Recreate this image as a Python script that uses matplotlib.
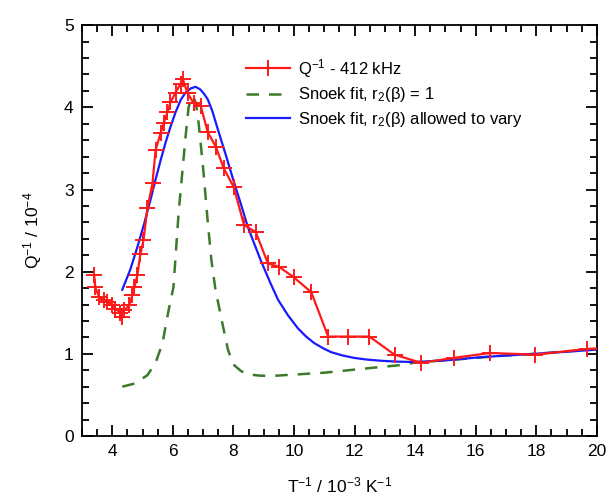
import matplotlib
matplotlib.use("Agg")
import matplotlib.pyplot as plt
from matplotlib.ticker import MultipleLocator

plt.rcParams['font.family'] = ['Liberation Sans', 'DejaVu Sans']
plt.rcParams['mathtext.fontset'] = 'custom'
plt.rcParams['mathtext.rm'] = 'Liberation Sans'
plt.rcParams['mathtext.it'] = 'Liberation Sans'

# Measured data: Q^-1 at 412 kHz
data_x = [3.40, 3.44, 3.57, 3.73, 3.83, 4.00, 4.10, 4.27, 4.33, 4.40, 4.56, 4.66,
          4.73, 4.83, 4.93, 5.03, 5.16, 5.33, 5.43, 5.60, 5.70, 5.82, 5.92, 6.09,
          6.26, 6.32, 6.49, 6.69, 6.92, 7.15, 7.42, 7.68, 8.01, 8.35, 8.74, 9.14,
          9.50, 10.00, 10.57, 11.13, 11.80, 12.49, 13.32, 14.20, 15.27, 16.47,
          17.96, 19.69, 20.30]
data_y = [1.96, 1.81, 1.69, 1.65, 1.63, 1.59, 1.55, 1.50, 1.45, 1.53, 1.59, 1.71,
          1.81, 1.96, 2.22, 2.38, 2.77, 3.08, 3.48, 3.69, 3.81, 3.94, 4.06, 4.18,
          4.29, 4.35, 4.17, 4.05, 4.02, 3.70, 3.52, 3.26, 3.03, 2.57, 2.48, 2.10,
          2.06, 1.93, 1.75, 1.21, 1.21, 1.21, 0.99, 0.89, 0.95, 1.01,
          0.99, 1.06, 1.07]

# Snoek fit, r2(beta) = 1
fit1_x = [4.33, 4.76, 5.16, 5.43, 5.66, 5.86, 6.02, 6.19, 6.32, 6.42, 6.52, 6.60,
          6.68, 6.76, 6.84, 6.92, 7.02, 7.15, 7.27, 7.40, 7.59, 7.82, 8.00, 8.25,
          8.48, 8.85, 9.24, 10.13, 11.00, 11.80, 12.60, 13.45, 14.10, 15.00, 16.00,
          17.00, 18.00, 19.00, 19.90]
fit1_y = [0.60, 0.64, 0.74, 0.89, 1.13, 1.53, 1.81, 2.71, 3.24, 3.64, 4.00, 4.10,
          4.13, 4.05, 3.85, 3.56, 3.18, 2.62, 2.15, 1.80, 1.45, 1.05, 0.87, 0.79,
          0.75, 0.735, 0.73, 0.75, 0.77, 0.80, 0.83, 0.86, 0.90, 0.92, 0.95,
          0.98, 1.00, 1.03, 1.05]

# Snoek fit, r2(beta) allowed to vary
fit2_x = [4.33, 4.60, 4.83, 5.05, 5.26, 5.43, 5.60, 5.76, 5.92, 6.09, 6.26, 6.42,
          6.59, 6.75, 6.90, 7.02, 7.15, 7.30, 7.48, 7.75, 8.01, 8.25, 8.48, 8.70,
          8.90, 9.20, 9.47, 9.80, 10.13, 10.40, 10.67, 11.00, 11.23, 11.60, 11.99,
          12.40, 12.89, 13.40, 13.98, 15.00, 16.20, 17.50, 18.80, 19.95]
fit2_y = [1.78, 2.03, 2.30, 2.58, 2.87, 3.12, 3.36, 3.57, 3.76, 3.94, 4.09, 4.18,
          4.23, 4.25, 4.22, 4.17, 4.10, 3.96, 3.74, 3.42, 3.10, 2.82, 2.54, 2.33,
          2.14, 1.88, 1.66, 1.47, 1.31, 1.21, 1.13, 1.06, 1.02, 0.98, 0.95,
          0.93, 0.915, 0.905, 0.90, 0.92, 0.96, 0.99, 1.02, 1.05]

labels = [r"Q$^{-1}$ - 412 kHz", r"Snoek fit, r$_2$($\beta$) = 1",
          r"Snoek fit, r$_2$($\beta$) allowed to vary"]

fig = plt.figure(figsize=(6.09, 5.04), dpi=100)
ax = fig.add_axes([0.1346, 0.135, 0.8454, 0.815])

ax.plot(data_x, data_y, color='#ff1a1a', lw=1.6, marker='+', ms=11, mew=1.4,
        markevery=list(range(len(data_x) - 1)),
        label=labels[0], zorder=3)
ax.plot(fit1_x, fit1_y, color='#3a7a2a', lw=1.8, ls=(0, (5, 4)),
        label=labels[1], zorder=2)
ax.plot(fit2_x, fit2_y, color='#1a1aff', lw=1.6, label=labels[2], zorder=2)

ax.set_xlim(3, 20)
ax.set_ylim(0, 5)
ax.xaxis.set_major_locator(MultipleLocator(2))
ax.xaxis.set_minor_locator(MultipleLocator(0.5))
ax.yaxis.set_major_locator(MultipleLocator(1))
ax.yaxis.set_minor_locator(MultipleLocator(0.2))
ax.tick_params(which='both', direction='in', top=True, right=True, width=1.3,
               labelsize=12.5, pad=6)
ax.tick_params(which='major', length=8)
ax.tick_params(which='minor', length=5)
for s in ax.spines.values():
    s.set_linewidth(1.3)

ax.set_xlabel(r"T$^{-1}$ / 10$^{-3}$ K$^{-1}$", fontsize=12.5, labelpad=12)
ax.set_ylabel(r"Q$^{-1}$ / 10$^{-4}$", fontsize=12.5, labelpad=14)

leg = ax.legend(loc='upper left', bbox_to_anchor=(0.29, 0.96), frameon=False,
                fontsize=12, handlelength=2.6, handletextpad=0.5,
                labelspacing=0.35)

fig.savefig("out.png", dpi=100)
